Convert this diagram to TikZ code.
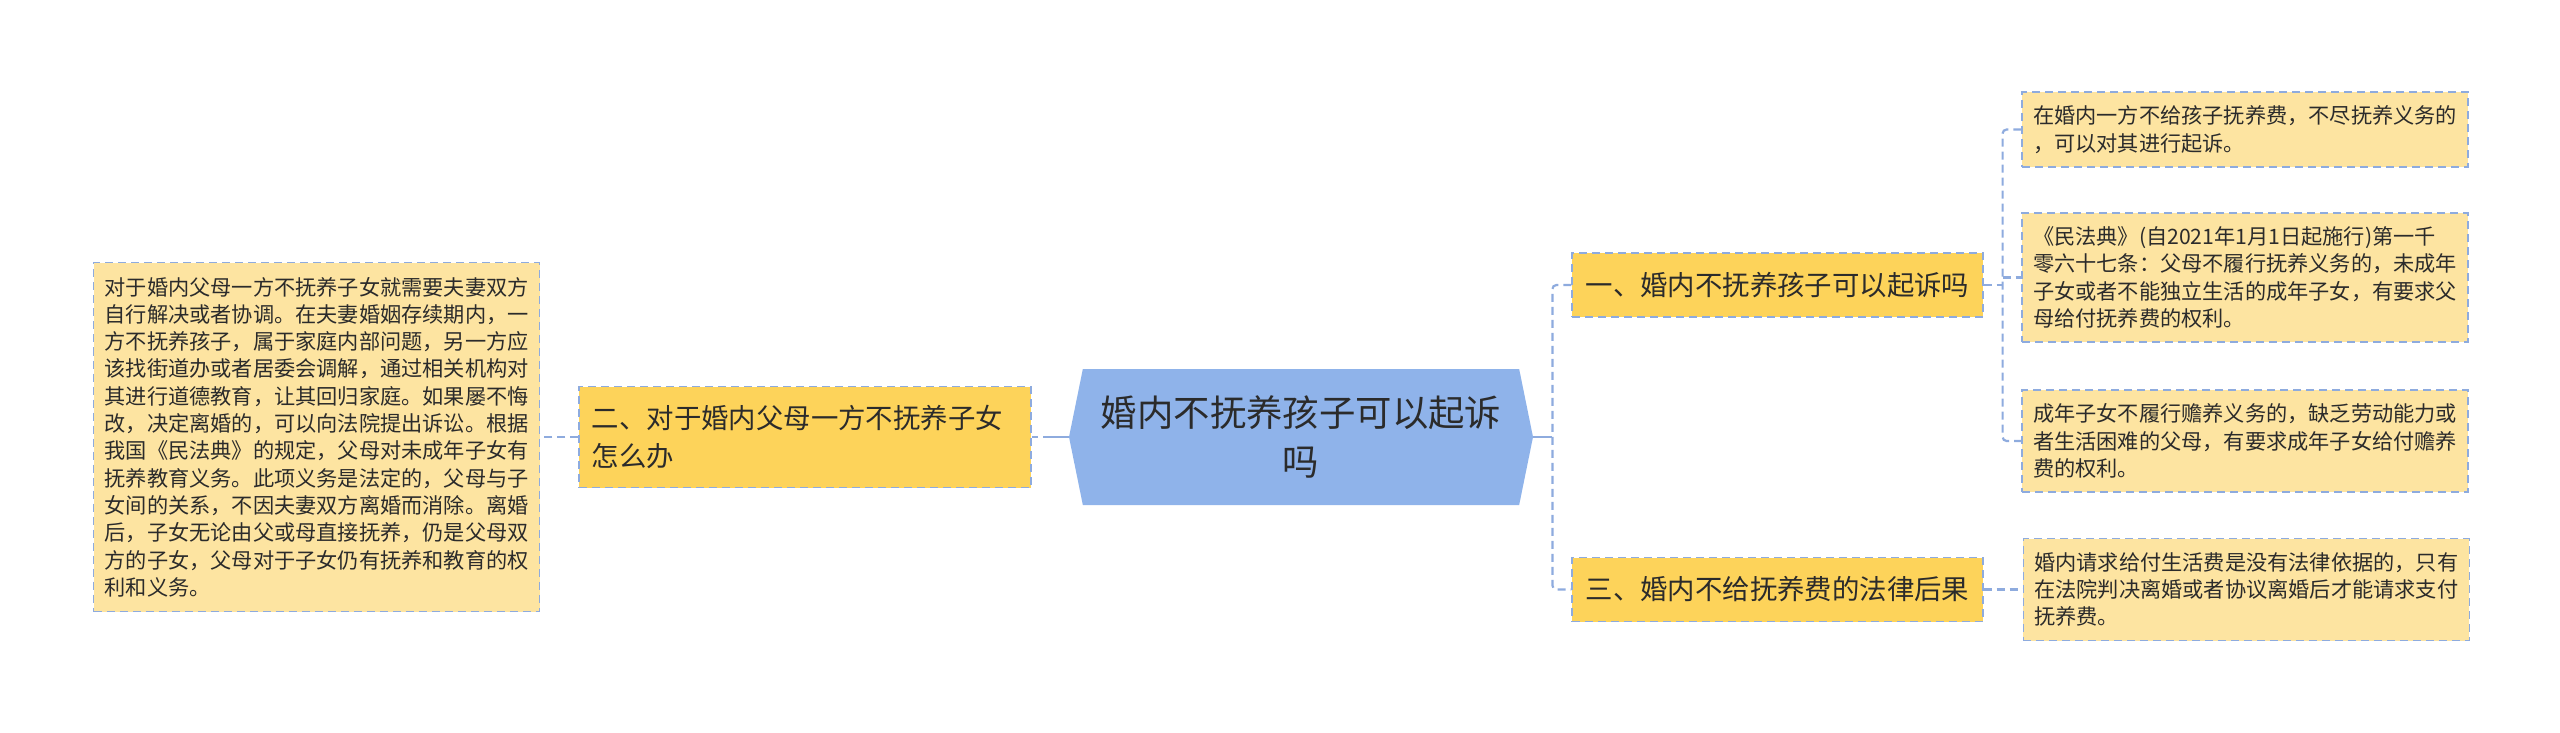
\documentclass[tikz,border=0pt]{standalone}
\usepackage{fontspec}
\setmainfont{Noto Sans CJK SC}
\usepackage{tikz}
\usetikzlibrary{positioning, shapes.symbols}
\definecolor{topicblue}{HTML}{8FB3EA}
\definecolor{subgold}{HTML}{FDD35A}
\definecolor{detailyellow}{HTML}{FDE4A1}
\definecolor{linkblue}{HTML}{8EABDE}
\definecolor{inkgray}{HTML}{2B2B2B}

\begin{document}
\begin{tikzpicture}[
      x=0.5pt, y=-0.5pt,
      topic/.style={signal, signal to=west and east, signal pointer angle=157,
        fill=topicblue, minimum width=232pt, minimum height=68pt, text width=205pt,
        align=center, text=inkgray, font=\fontsize{18.2pt}{24.5pt}\selectfont},
      subtopic/.style={draw=linkblue, dash pattern=on 4pt off 2.5pt, line width=0.6pt,
        fill=subgold, inner xsep=6.5pt, align=left, text=inkgray,
        font=\fontsize{13.7pt}{18.8pt}\selectfont},
      detail/.style={draw=linkblue, dash pattern=on 4pt off 2.5pt, line width=0.6pt,
        fill=detailyellow, inner xsep=5.5pt, text width=212pt, align=left, text=inkgray,
        font=\fontsize{10.6pt}{13.65pt}\selectfont},
      link/.style={draw=linkblue, line width=1.1pt, dash pattern=on 4pt off 2.5pt},
      stub/.style={draw=linkblue, line width=1.1pt}
    ]
    \useasboundingbox (0,0) rectangle (2560,733);

    \node[topic] (root) at (1301,437) {婚内不抚养孩子可以起诉\\吗};

    \node[subtopic, text width=213pt, minimum height=50.5pt, left=18.5pt of root] (sub2)
      {二、对于婚内父母一方不抚养子女\\怎么办};
    \node[detail, minimum height=174.5pt, left=19pt of sub2] (leaf0)
      {对于婚内父母一方不抚养子女就需要夫妻双方\\自行解决或者协调。在夫妻婚姻存续期内，一\\方不抚养孩子，属于家庭内部问题，另一方应\\该找街道办或者居委会调解，通过相关机构对\\其进行道德教育，让其回归家庭。如果屡不悔\\改，决定离婚的，可以向法院提出诉讼。根据\\我国《民法典》的规定，父母对未成年子女有\\抚养教育义务。此项义务是法定的，父母与子\\女间的关系，不因夫妻双方离婚而消除。离婚\\后，子女无论由父或母直接抚养，仍是父母双\\方的子女，父母对于子女仍有抚养和教育的权\\利和义务。};

    \node[subtopic, minimum width=205.5pt, minimum height=32pt] (sub1) at (1777.5,285)
      {一、婚内不抚养孩子可以起诉吗};
    \node[subtopic, minimum width=205.5pt, minimum height=32pt] (sub3) at (1777.5,589.5)
      {三、婚内不给抚养费的法律后果};

    \node[detail, minimum height=37.5pt] (leaf1) at (2245,129.5)
      {在婚内一方不给孩子抚养费，不尽抚养义务的\\，可以对其进行起诉。};
    \node[detail, minimum height=64.5pt] (leaf2) at (2245,277.5)
      {《民法典》(自2021年1月1日起施行)第一千\\零六十七条：父母不履行抚养义务的，未成年\\子女或者不能独立生活的成年子女，有要求父\\母给付抚养费的权利。};
    \node[detail, minimum height=51pt] (leaf3) at (2245,441)
      {成年子女不履行赡养义务的，缺乏劳动能力或\\者生活困难的父母，有要求成年子女给付赡养\\费的权利。};
    \node[detail, minimum height=51pt, right=19.5pt of sub3] (leaf4)
      {婚内请求给付生活费是没有法律依据的，只有\\在法院判决离婚或者协议离婚后才能请求支付\\抚养费。};

    \draw[stub] (root.west) -- ++(-9pt,0) coordinate (joinL);
    \draw[link] (joinL) -- (sub2.east);
    \draw[link] (sub2.west) -- (leaf0.east);

    \draw[stub] (root.east) -- ++(9.5pt,0) coordinate (fork);
    \draw[link, rounded corners=2pt] (sub1.west) -| (fork) |- (sub3.west);

    \draw[link] (sub1.east) -- ++(9.5pt,0) coordinate (fork1);
    \draw[link, rounded corners=2pt] (leaf1.west) -| (fork1) |- (leaf3.west);
    \draw[link] (fork1 |- leaf2.west) -- (leaf2.west);
    \draw[link] (sub3.east) -- (leaf4.west);
  \end{tikzpicture}
\end{document}
